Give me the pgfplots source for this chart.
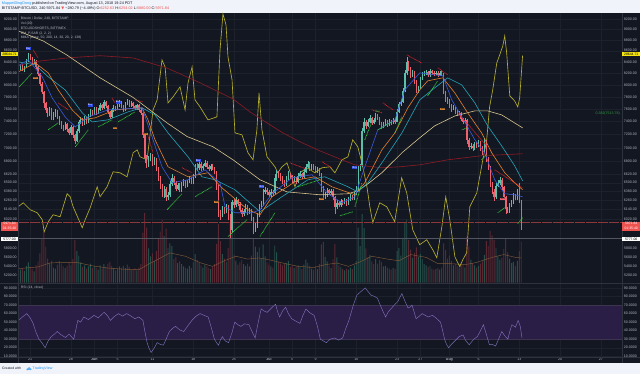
\documentclass[border=0pt]{standalone}
\usepackage{fontspec}
\setmainfont{Liberation Sans}
\newfontfamily\dejavu{DejaVu Sans}
\usepackage{pgfplots}
\pgfplotsset{compat=1.18}
\usepackage{pgfplotstable}
\definecolor{bg}{HTML}{131722}
\definecolor{hdr}{HTML}{F0F3FA}
\definecolor{gridc}{HTML}{1D212C}
\definecolor{sep}{HTML}{2E323E}
\definecolor{axtext}{HTML}{B2B5BE}
\definecolor{upc}{HTML}{5CBFA9}
\definecolor{dnc}{HTML}{EE6270}
\definecolor{maBlue}{HTML}{3B5BDB}
\definecolor{maOrange}{HTML}{E8822A}
\definecolor{maCyan}{HTML}{23A5B8}
\definecolor{maTan}{HTML}{D5C48C}
\definecolor{maRed}{HTML}{8E1B24}
\definecolor{shorts}{HTML}{B5AE2C}
\definecolor{volG}{HTML}{24524A}
\definecolor{volR}{HTML}{5A2732}
\definecolor{volMA}{HTML}{7E5636}
\definecolor{rsiL}{HTML}{7D70B8}
\definecolor{rsiB}{HTML}{2A1E46}
\definecolor{rsiE}{HTML}{3D3452}
\definecolor{sarG}{HTML}{33D13A}
\definecolor{sarR}{HTML}{E0242B}
\definecolor{buyc}{HTML}{2B45E0}
\definecolor{sellc}{HTML}{D3802E}
\definecolor{lastR}{HTML}{EF5350}
\definecolor{yBox}{HTML}{F5E50C}
\definecolor{tvblue}{HTML}{2196F3}
\definecolor{hdrtext}{HTML}{131722}
\definecolor{fibG}{HTML}{2E9E3C}

\pgfplotstableread{
b o c h l v
-6 8300 8280 8340 8240 2600
-5 8280 8340 8370 8260 2300
-4 8340 8260 8360 8230 2500
-3 8260 8310 8330 8220 2100
-2 8310 8420 8450 8290 3000
-1 8420 8510 8560 8400 3600
0 8510 8460 8540 8430 2800
1 8460 8400 8490 8370 2400
2 8400 8420 8450 8360 2000
3 8420 8300 8430 8270 3100
4 8300 8180 8320 8150 3800
5 8180 8020 8200 7980 5200
6 8020 7880 8040 7840 7800
7 7880 7700 7900 7620 9200
8 7700 7580 7720 7540 6400
9 7580 7520 7620 7470 4300
10 7520 7590 7630 7490 3500
11 7590 7460 7610 7430 3900
12 7460 7510 7550 7420 2700
13 7510 7570 7600 7480 2500
14 7570 7470 7590 7440 3200
15 7470 7380 7490 7340 3900
16 7380 7320 7410 7290 3400
17 7320 7290 7350 7250 2900
18 7290 7360 7390 7270 2600
19 7360 7280 7380 7240 3000
20 7280 7220 7300 7190 3500
21 7220 7310 7340 7200 3100
22 7310 7190 7330 7150 4200
23 7190 7100 7210 7060 7600
24 7100 7250 7280 7090 5600
25 7250 7390 7420 7230 4800
26 7390 7430 7470 7360 3600
27 7430 7360 7450 7330 2800
28 7360 7460 7490 7340 3100
29 7460 7400 7480 7370 2500
30 7400 7490 7520 7380 2900
31 7490 7570 7600 7470 3400
32 7570 7520 7590 7490 2600
33 7520 7610 7640 7500 3000
34 7610 7540 7630 7510 2700
35 7540 7590 7620 7520 2300
36 7590 7670 7700 7570 3100
37 7670 7620 7690 7590 2500
38 7620 7710 7740 7600 3300
39 7710 7650 7730 7620 2800
40 7650 7550 7670 7520 3400
41 7550 7470 7570 7440 3700
42 7470 7580 7610 7450 3000
43 7580 7630 7660 7560 2600
44 7630 7600 7650 7570 2200
45 7600 7660 7690 7580 2500
46 7660 7710 7750 7640 2900
47 7710 7640 7730 7610 2700
48 7640 7590 7660 7560 3000
49 7590 7680 7710 7570 2600
50 7680 7720 7770 7660 3200
51 7720 7660 7740 7630 2800
52 7660 7700 7730 7640 2300
53 7700 7650 7720 7620 2400
54 7650 7610 7670 7580 2600
55 7610 7660 7690 7590 2200
56 7660 7590 7680 7560 2700
57 7590 7540 7610 7500 3300
58 7540 7200 7560 7150 8900
59 7200 6850 7220 6780 12400
60 6850 6760 6900 6700 9800
61 6760 6830 6880 6720 6100
62 6830 6890 6930 6800 4700
63 6890 6770 6910 6740 5200
64 6770 6830 6860 6750 3900
65 6830 6700 6850 6660 5600
66 6700 6560 6720 6520 7800
67 6560 6450 6590 6410 9100
68 6450 6360 6480 6300 11200
69 6360 6420 6460 6290 8300
70 6420 6300 6440 6250 9600
71 6300 6330 6370 6270 6200
72 6330 6480 6520 6310 7000
73 6480 6560 6620 6460 6500
74 6560 6500 6600 6470 4200
75 6500 6420 6520 6390 4600
76 6420 6470 6500 6400 3500
77 6470 6400 6490 6370 3800
78 6400 6480 6510 6380 3300
79 6480 6520 6550 6460 2900
80 6520 6460 6540 6430 2700
81 6460 6510 6540 6440 2500
82 6510 6560 6600 6490 3000
83 6560 6500 6580 6480 2600
84 6500 6590 6620 6480 3600
85 6590 6720 6760 6570 5100
86 6720 6700 6780 6670 4000
87 6700 6760 6800 6680 3500
88 6760 6700 6790 6670 3100
89 6700 6740 6770 6680 2700
90 6740 6780 6820 6720 3200
91 6780 6720 6800 6690 2900
92 6720 6690 6750 6660 2600
93 6690 6740 6770 6670 2400
94 6740 6700 6760 6680 2800
95 6700 6650 6720 6620 3300
96 6650 6450 6670 6400 6900
97 6450 6100 6470 6050 10400
98 6100 6060 6140 6010 7400
99 6060 6150 6190 6040 5100
100 6150 6110 6180 6080 4300
101 6110 6180 6210 6090 3700
102 6180 6050 6200 6000 6200
103 6050 5880 6080 5777 10800
104 5880 6240 6270 5860 9400
105 6240 6200 6280 6160 5000
106 6200 6260 6300 6180 3900
107 6260 6220 6280 6190 3200
108 6220 6140 6240 6110 3600
109 6140 6080 6160 6050 4100
110 6080 6120 6150 6060 3300
111 6120 6180 6210 6100 3000
112 6180 6100 6200 6070 3400
113 6100 6130 6160 6080 2900
114 6130 6020 6150 5990 4800
115 6020 5900 6040 5830 7900
116 5900 5930 5970 5860 6400
117 5930 6060 6090 5910 5500
118 6060 6180 6210 6040 6300
119 6180 6210 6250 6150 4400
120 6210 6380 6420 6190 6800
121 6380 6400 6440 6350 4700
122 6400 6370 6430 6330 3600
123 6370 6330 6400 6300 3200
124 6330 6380 6410 6310 2900
125 6380 6360 6400 6320 2700
126 6360 6560 6620 6340 6600
127 6560 6640 6680 6530 5400
128 6640 6600 6660 6560 3700
129 6600 6560 6630 6520 3400
130 6560 6520 6590 6480 3100
131 6520 6480 6540 6440 3300
132 6480 6560 6600 6460 3500
133 6560 6620 6660 6540 3900
134 6620 6580 6640 6550 2800
135 6580 6530 6610 6500 3000
136 6530 6560 6590 6510 2600
137 6560 6510 6580 6480 2900
138 6510 6590 6630 6490 3100
139 6590 6620 6660 6570 2800
140 6620 6580 6640 6550 2400
141 6580 6650 6690 6560 3200
142 6650 6720 6770 6630 4100
143 6720 6760 6800 6700 3500
144 6760 6700 6790 6670 3000
145 6700 6740 6770 6680 2500
146 6740 6710 6760 6680 2300
147 6710 6660 6730 6630 2900
148 6660 6690 6720 6640 2400
149 6690 6620 6710 6590 3300
150 6620 6420 6640 6380 6800
151 6420 6310 6450 6270 7200
152 6310 6330 6370 6280 4600
153 6330 6400 6430 6310 3800
154 6400 6360 6420 6330 3000
155 6360 6390 6420 6340 2600
156 6390 6300 6410 6260 4200
157 6300 6180 6320 6080 6900
158 6180 6230 6260 6150 4500
159 6230 6200 6250 6170 3100
160 6200 6250 6280 6180 2800
161 6250 6230 6270 6200 2400
162 6230 6260 6290 6210 2200
163 6260 6220 6280 6190 2500
164 6220 6270 6300 6200 2300
165 6270 6310 6340 6250 2700
166 6310 6290 6330 6260 2400
167 6290 6350 6380 6270 3100
168 6350 6420 6460 6330 3900
169 6420 6700 6740 6400 9800
170 6700 6730 6770 6660 6500
171 6730 7250 7300 6720 12200
172 7250 7400 7450 7220 9700
173 7400 7330 7420 7290 6100
174 7330 7400 7440 7310 4500
175 7400 7450 7500 7380 4900
176 7450 7380 7470 7350 3800
177 7380 7420 7460 7360 3300
178 7420 7490 7540 7400 4200
179 7490 7460 7520 7430 3400
180 7460 7380 7480 7340 4000
181 7380 7330 7400 7290 3700
182 7330 7360 7390 7300 2900
183 7360 7400 7440 7340 3000
184 7400 7350 7420 7320 2700
185 7350 7410 7440 7330 2500
186 7410 7380 7430 7350 2300
187 7380 7430 7460 7360 2600
188 7430 7400 7450 7370 2400
189 7400 7560 7600 7390 5600
190 7560 7680 7720 7540 6200
191 7680 7720 7760 7650 4800
192 7720 7900 7950 7700 7900
193 7900 8200 8260 7880 10600
194 8200 8390 8480 8170 11200
195 8390 8280 8420 8230 7600
196 8280 8170 8300 8120 5900
197 8170 8210 8250 8130 4400
198 8210 8060 8230 8020 5300
199 8060 7900 8080 7860 6300
200 7900 7950 7990 7870 4600
201 7950 8100 8140 7930 5100
202 8100 8180 8220 8080 4200
203 8180 8190 8230 8150 3300
204 8190 8220 8260 8160 3100
205 8220 8160 8240 8130 2800
206 8160 8230 8270 8140 3000
207 8230 8200 8250 8170 2500
208 8200 8180 8230 8150 2300
209 8180 8210 8240 8160 2400
210 8210 8170 8230 8140 2600
211 8170 8210 8240 8150 2300
212 8210 8180 8230 8150 2700
213 8180 7880 8200 7840 7000
214 7880 7760 7900 7720 5800
215 7760 7730 7790 7690 4300
216 7730 7650 7760 7610 4800
217 7650 7600 7680 7560 3900
218 7600 7620 7660 7580 3100
219 7620 7560 7640 7520 3400
220 7560 7520 7580 7490 3000
221 7520 7540 7570 7500 2600
222 7540 7440 7560 7410 3600
223 7440 7400 7460 7360 3300
224 7400 7420 7450 7380 2700
225 7420 7120 7440 7060 8200
226 7120 7010 7150 6970 6400
227 7010 7030 7070 6980 4100
228 7030 6990 7060 6960 3500
229 6990 7050 7080 6970 3100
230 7050 7030 7090 7000 2700
231 7030 7080 7120 7010 3000
232 7080 7000 7100 6960 3400
233 7000 6940 7020 6900 3800
234 6940 7100 7150 6920 4900
235 7100 6830 7120 6790 7400
236 6830 6720 6860 6680 6500
237 6720 6480 6740 6440 9200
238 6480 6380 6510 6340 8400
239 6380 6300 6410 6250 7600
240 6300 6460 6490 6280 6200
241 6460 6500 6540 6440 4700
242 6500 6540 6580 6470 4100
243 6540 6440 6560 6400 4400
244 6440 6300 6460 6260 6000
245 6300 6150 6320 6080 7900
246 6150 6120 6180 6090 5400
247 6120 6200 6230 6100 4300
248 6200 6240 6270 6180 3500
249 6240 6330 6360 6220 3700
250 6330 6290 6350 6260 3000
251 6290 6380 6420 6270 3900
252 6380 6260 6500 6230 5600
253 6260 5971.84 6270 5880 7300
}\candles

\tikzset{
  lbl/.style={font=\fontsize{3.6}{4}\selectfont, text=axtext, inner sep=0.4bp},
  buy/.style={font=\fontsize{2.6}{3}\selectfont, fill=buyc, text=white, inner sep=0.3bp},
  sell/.style={font=\fontsize{2.6}{3}\selectfont, fill=sellc, text=bg, inner sep=0.3bp},
  box/.style={font=\fontsize{3.4}{4}\selectfont, inner sep=0.3bp, minimum width=17.6bp, minimum height=4.4bp},
}
\pgfplotsset{
  my pane/.style={scale only axis, anchor=south west, width=604bp, xmin=-5.92, xmax=304.94},
  my main/.style={my pane, at={(18.5bp,91bp)}, height=270bp},
  my rsi/.style={my pane, at={(18.5bp,16.3bp)}, height=74.4bp, ymin=8.83, ymax=95.85},
  my pticks/.style={ytick={6020,6140,6260,6380,6500,6620,6800,7000,7200,7400,7600,7800,8000,8200,8400,8600,8800,9000,9200},
    yticklabels={6020.00,6140.00,6260.00,6380.00,6500.00,6620.00,6800.00,7000.00,7200.00,7400.00,7600.00,7800.00,8000.00,8200.00,8400.00,8600.00,8800.00,9000.00,9200.00}},
  my rticks/.style={ytick={10,20,30,40,50,60,70,80,90},
    yticklabels={10.0000,20.0000,30.0000,40.0000,50.0000,60.0000,70.0000,80.0000,90.0000}},
  my dticks/.style={xtick={0,21,33,45,63,84,105,123,135,147,168,189,201,216,231,252,273,294}},
  my frame/.style={axis line style={draw=none}, major tick length=0pt},
  my grids/.style={xmajorgrids, ymajorgrids, major grid style={draw=gridc, line width=0.35bp}},
  my ebar/.style 2 args={draw=none, mark=none, forget plot,
    error bars/y dir=plus, error bars/y explicit, error bars/error mark=none,
    error bars/error bar style={draw=#1, line width=#2}},
  my sar/.style={#1, line width=0.8bp, dash pattern=on 0.7bp off 0.7bp, unbounded coords=jump},
}

\begin{document}
\begin{tikzpicture}
\begin{scope}[x=1bp,y=1bp]
\useasboundingbox (0,0) rectangle (640,374);
\fill[bg] (0,0) rectangle (640,374);
\fill[hdr] (0,361) rectangle (640,374);
\fill[hdr] (0,0) rectangle (640,11);
\end{scope}

% ---------- main pane frame, grid, left labels
\begin{axis}[my main, ymode=log, ymin=5259, ymax=9318, my pticks, my frame, my grids, my dticks, xticklabels={},
  yticklabel style={lbl, anchor=east, xshift=-1.2bp}]
\addplot[draw=none] coordinates {(0,7000)};
\end{axis}

% ---------- volume
\begin{axis}[my main, hide axis, ymin=0, ymax=48000]
\addplot[ybar, bar width=0.95bp, bar shift=0pt, fill=volG, draw=none,
  restrict expr to domain={\thisrow{c}-\thisrow{o}}{0:100000}] table[x=b, y=v] {\candles};
\addplot[ybar, bar width=0.95bp, bar shift=0pt, fill=volR, draw=none,
  restrict expr to domain={\thisrow{o}-\thisrow{c}}{0.5:100000}] table[x=b, y=v] {\candles};
\addplot[volMA, line width=0.45bp] coordinates {(-6,2500) (4,2800) (10,3500) (16,3600) (24,3600) (32,3000) (40,2600) (48,2400) (56,2300) (60,3100) (66,4200) (72,5300) (80,4700) (88,3500) (94,2900) (100,3900) (106,4700) (112,4200) (118,4400) (124,4000) (130,3500) (138,2900) (146,2700) (152,3200) (158,3500) (164,2900) (170,3700) (176,4700) (184,4200) (190,3900) (196,5000) (204,4500) (210,3400) (216,3400) (224,3200) (230,3600) (238,4500) (244,5000) (250,4500) (253,4400)};
\end{axis}

% ---------- BTCUSDSHORTS overlay
\begin{axis}[my main, hide axis, ymin=15000, ymax=31200]
\addplot[shorts, line width=0.65bp] coordinates {(-6.2,19560) (-3.6,19800) (0,19380) (3.6,19200) (6.2,18780) (7.2,18060) (9.3,18660) (11.8,19080) (15.4,18960) (19.0,20340) (20.6,20160) (22.1,19560) (25.7,18600) (26.8,18300) (28.3,18780) (30.9,19500) (34.5,20760) (36.0,20160) (39.6,20760) (42.7,21660) (46.3,21600) (49.9,21360) (53.0,22800) (55.1,22980) (56.6,22560) (60.2,22380) (63.3,25380) (65.4,25980) (67.9,28380) (69.5,27960) (71.0,25800) (73.6,26160) (77.2,26760) (79.8,25380) (81.3,27000) (83.4,27960) (84.9,25980) (87.5,25560) (91.6,24780) (96.2,24960) (97.8,28980) (99.3,31140) (100.9,30480) (101.9,28560) (104.0,27180) (105.5,24000) (109.1,23880) (112.2,22800) (114.8,22380) (116.8,24180) (117.9,26400) (119.4,24180) (122.0,22560) (126.1,21960) (127.6,21600) (129.7,21960) (132.3,22200) (136.4,20760) (139.0,21600) (142.6,21900) (146.7,21600) (150.3,21900) (154.4,21960) (157.0,21600) (160.6,22380) (163.7,22560) (166.2,23580) (168.8,23160) (170.9,22200) (173.5,20760) (175.0,19560) (176.5,18600) (180.1,19800) (183.7,19560) (187.8,18660) (191.4,21300) (194.0,20400) (197.1,18180) (200.7,17280) (204.3,17580) (207.4,16980) (209.5,16500) (212.1,18360) (214.1,20160) (216.2,18780) (218.8,16560) (221.3,15960) (222.9,16380) (224.9,16800) (226.5,19560) (230.1,20400) (233.2,22380) (235.2,23580) (236.7,25560) (238.3,26580) (240.4,28200) (241.9,28680) (243.5,29220) (244.5,29820) (245.5,28800) (247.1,26220) (249.6,25920) (251.2,25560) (252.2,26100) (253.7,28644.71)};
\end{axis}

% ---------- price: candles, MAs, SAR
\begin{axis}[my main, ymode=log, ymin=5259, ymax=9318, hide axis]
\addplot[lastR!55!bg, line width=0.7bp, dash pattern=on 0.5bp off 0.6bp] coordinates {(-6,5971.84) (305,5971.84)};
\addplot[axtext!40!bg, line width=0.35bp] coordinates {(-6,5777) (305,5777)};
% candles
\addplot[my ebar={upc}{0.4bp}, restrict expr to domain={\thisrow{c}-\thisrow{o}}{0:100000}]
  table[x=b, y=l, y error plus expr=\thisrow{h}-\thisrow{l}] {\candles};
\addplot[my ebar={dnc}{0.4bp}, restrict expr to domain={\thisrow{o}-\thisrow{c}}{0.5:100000}]
  table[x=b, y=l, y error plus expr=\thisrow{h}-\thisrow{l}] {\candles};
\addplot[my ebar={upc}{1.2bp}, restrict expr to domain={\thisrow{c}-\thisrow{o}}{0:100000}]
  table[x=b, y=o, y error plus expr=\thisrow{c}-\thisrow{o}] {\candles};
\addplot[my ebar={dnc}{1.2bp}, restrict expr to domain={\thisrow{o}-\thisrow{c}}{0.5:100000}]
  table[x=b, y=c, y error plus expr=\thisrow{o}-\thisrow{c}] {\candles};
% moving averages
\addplot[maRed, line width=0.6bp] coordinates {(-6.2,8330) (1.5,8400) (19,8470) (36,8510) (53,8470) (70.5,8290) (87.5,8035) (104.5,7765) (113.2,7555) (122,7380) (130.2,7225) (139,7090) (149.3,6955) (160.6,6824) (167.3,6752) (181.2,6710) (190.4,6724) (200.7,6752) (215.1,6824) (232.6,6883) (253.7,6912)};
\addplot[maTan, line width=0.6bp] coordinates {(-6.2,8970) (6.7,8780) (19,8520) (36,8120) (53,7790) (60.2,7620) (70.5,7380) (80.8,7170) (94.2,7015) (104.5,6824) (118.4,6541) (132.3,6375) (149.3,6336) (163.7,6350) (168.8,6390) (174,6485) (181.2,6640) (191.5,6926) (200.7,7150) (208.4,7334) (218.8,7490) (229.1,7570) (235.7,7570) (242.9,7507) (253.7,7303)};
\addplot[maCyan, line width=0.6bp] coordinates {(-6.2,8400) (2.6,8346) (9.3,8137) (18,7915) (26.8,7539) (31.9,7396) (40.1,7428) (50.4,7555) (57.6,7620) (64.3,7507) (71,7225) (81.3,6868) (88.5,6583) (95.2,6541) (105.5,6404) (118.4,6112) (129.7,6310) (143.1,6541) (151.8,6583) (163.7,6445) (168.8,6375) (174,6500) (181.2,6780) (191.5,7225) (200.7,7750) (208.4,7948) (215.1,8120) (222.3,8000) (229.1,7700) (235.7,7334) (242.9,7030) (249.6,6738) (253.7,6527)};
\addplot[maOrange, line width=0.6bp] coordinates {(-6.2,8222) (2.6,8380) (9.3,8205) (14.4,7915) (21.6,7587) (26.8,7428) (33.5,7460) (43.7,7587) (57.6,7620) (60.7,7428) (64.3,7120) (71,6724) (81.3,6583) (91.6,6640) (98.8,6430) (112.2,6138) (118.4,6073) (124.6,6310) (138,6541) (146.7,6583) (155.4,6445) (167.3,6336) (172.4,6500) (181.2,6970) (187.9,7225) (194.6,7620) (200.7,7915) (204.8,8068) (212.6,8120) (218.8,7865) (225.4,7539) (232.6,7225) (237.8,6926) (244.5,6640) (249.6,6500) (253.7,6404)};
\addplot[maBlue, line width=0.6bp] coordinates {(-6.2,8330) (-1.0,8435) (6.2,8137) (11.3,7783) (18.0,7475) (23.2,7318) (29.9,7475) (40.1,7587) (57.6,7620) (62.8,7165) (67.9,6724) (73.1,6500) (81.3,6541) (90.1,6681) (97.8,6500) (100.4,6177) (105.5,6099) (114.3,6099) (118.4,6138) (124.6,6350) (134.9,6569) (145.2,6611) (153.4,6350) (160.6,6230) (167.3,6310) (172.4,6724) (179.1,7272) (187.9,7428) (193,7915) (200.7,8205) (208.4,8171) (212.6,8154) (217.2,7750) (223.9,7396) (229.1,7120) (234.2,6926) (239.3,6541) (244.5,6350) (249.6,6336) (253.7,6310)};
% parabolic SAR
\addplot[my sar=sarG] coordinates {(-6.2,7948) (1.0,8205) (1.0,nan) (9.3,7272) (14.4,7380) (14.4,nan) (23.2,7015) (29.9,7272) (29.9,nan) (35,7318) (42.2,7428) (42.2,nan) (45.3,7396) (54,7555) (54,nan) (70.5,6138) (78.2,6350) (78.2,nan) (84.9,6310) (93.7,6445) (93.7,nan) (101.9,5800) (111.7,6010) (111.7,nan) (118.4,5800) (126.1,6099) (126.1,nan) (138,6445) (149.3,6541) (149.3,nan) (159.6,6060) (166.2,6112) (166.2,nan) (167.3,6177) (170.9,6500) (170.9,nan) (172.4,7120) (176,7396) (176,nan) (179.1,7272) (186.3,7396) (186.3,nan) (187.9,7225) (191.5,7475) (191.5,nan) (204.8,7815) (210,8068) (210,nan) (222.3,7272) (225.4,7303) (225.4,nan) (232.6,6824) (235.2,6897) (235.2,nan) (240.9,6099) (244.5,6164) (244.5,nan) (251.2,5960) (253.7,6035)};
\addplot[my sar=sarR] coordinates {(1.5,8615) (4.1,8470) (4.1,nan) (14.4,7700) (19.6,7587) (19.6,nan) (42.2,7782) (43.7,7700) (43.7,nan) (54,7750) (58.1,7717) (58.1,nan) (60.2,7225) (63.3,6926) (63.3,nan) (78.2,6710) (83.4,6640) (83.4,nan) (133.8,6780) (141.5,6700) (141.5,nan) (150.3,6795) (155.4,6710) (155.4,nan) (176,7587) (181.2,7539) (181.2,nan) (181.7,7700) (186.8,7587) (186.8,nan) (194,8525) (201.7,8380) (201.7,nan) (210,8293) (215.1,8171) (215.1,nan) (220.3,7539) (235.2,7030) (235.2,nan) (239.3,6681) (253.7,6430)};
% buy / sell signals
\node[buy] at (axis cs:-1,8640) {Buy};
\node[buy] at (axis cs:30.9,7660) {Buy};
\node[buy] at (axis cs:45.3,7710) {Buy};
\node[buy] at (axis cs:86.5,6810) {Buy};
\node[buy] at (axis cs:119.4,6445) {Buy};
\node[buy] at (axis cs:167.3,6710) {Buy};
\node[font=\fontsize{2.6}{3}\selectfont, text=sarG] at (axis cs:179.1,7555) {Buy};
\node[sell] at (axis cs:2.6,8120) {Sell};
\node[sell] at (axis cs:43.7,7303) {Sell};
\node[sell] at (axis cs:59.2,7210) {Sell};
\node[sell] at (axis cs:96.2,6243) {Sell};
\node[sell] at (axis cs:150.3,6283) {Sell};
\node[sell] at (axis cs:212.6,7603) {Sell};
\node[sell, fill=dnc] at (axis cs:243.5,6283) {Sell};
\end{axis}

% ---------- right price labels
\begin{axis}[my main, ymode=log, ymin=5259, ymax=9318, my pticks, my frame, xtick=\empty, yticklabel pos=right,
  yticklabel style={lbl, anchor=west, xshift=1.2bp}]
\addplot[draw=none] coordinates {(0,7000)};
\end{axis}

% ---------- RSI pane
\begin{axis}[my rsi, my rticks, my frame, my grids, my dticks,
  xticklabels={21,28,\textbf{Jun},5,11,18,25,\textbf{Jul},5,9,16,23,27,\textbf{Aug},6,13,20,27},
  xticklabel style={lbl, anchor=north, yshift=-0.4bp},
  yticklabel style={lbl, anchor=east, xshift=-1.2bp}]
\addplot[fill=rsiB, draw=none] coordinates {(-6,30) (305,30) (305,70) (-6,70) (-6,30)};
\addplot[rsiE, line width=0.4bp] coordinates {(-6,30) (305,30)};
\addplot[rsiE, line width=0.4bp] coordinates {(-6,70) (305,70)};
\addplot[rsiL, line width=0.45bp] coordinates {(-6,52) (-4,56) (-1.8,60) (0,55) (1.4,49) (3,38) (4.5,30) (6,26) (7.7,20) (9,27) (10.8,33) (12.5,36) (13.9,39) (16,35) (18.2,32) (20,36) (22.4,30) (23.5,41) (24.5,52) (26,50) (27.6,56) (30,53) (32.9,58) (35,55) (38.1,61.5) (40,57) (41.3,52) (43,56) (45.5,60) (47.5,57) (49.7,60) (52,57) (53.9,54) (56,56) (58.1,52) (59,40) (60.2,26) (61.3,19) (62.3,14.5) (64,20) (65.4,26) (67,24) (68.6,23) (70,30) (71.7,39) (73.5,43) (74.9,45) (77,41) (79.1,39) (81,45) (83.3,52) (85.5,57) (87.5,60) (89.5,58) (91.7,56) (93.5,42) (94.9,30) (96,26) (97,23) (98,29) (99,33) (100.5,28) (102.2,26) (104,38) (105.4,50) (107,47) (108.5,45) (110.5,48) (112.7,47) (114.5,38) (115.9,31.5) (117.5,50) (119,65.5) (120.5,63) (122.1,61.5) (124.5,67) (126.4,71) (127.5,62) (128.5,56) (130,63) (131.6,67.5) (133,60) (134.7,54) (137,51) (139,48.5) (140.5,58) (142.1,65.5) (144,61) (146.3,58) (148,45) (149.5,30) (151,28) (152.6,26) (154.5,30) (156.8,31.5) (159,29) (161,31.5) (162.5,42) (164.2,52) (166.5,70) (168.3,81.5) (170.5,86) (172.6,90) (174,86) (175.7,81.5) (177.5,80) (178.9,78) (180,72) (181,66.5) (183.1,56) (184.5,62) (186.2,66.5) (188,71) (189.4,74) (190.5,79) (191.5,83.5) (193,75) (194.7,66.5) (196,68) (196.7,70) (197.8,62) (198.8,54) (200.5,57) (202,60) (205,56) (207.3,58) (209.5,54) (211.4,50) (212.5,40) (213.5,30) (214.5,24) (215.6,20) (217,24) (218.8,28) (221,33) (223,35) (224.5,28) (226.2,23.5) (228.5,30) (230.4,33) (232,40) (233.5,47) (235,36) (236.6,23.5) (238,24) (239.8,22) (241.5,31) (243,39) (244.5,34) (246.1,30) (247.2,40) (248.2,47) (250,44) (251.4,52) (252.5,45) (253.4,31.5)};
\end{axis}
\begin{axis}[my rsi, my rticks, my frame, xtick=\empty, yticklabel pos=right,
  yticklabel style={lbl, anchor=west, xshift=1.2bp}]
\addplot[draw=none] coordinates {(0,50)};
\end{axis}

\begin{scope}[x=1bp,y=1bp]
% ---------- separators
\draw[sep, line width=0.5bp] (18.5,11) -- (18.5,361);
\draw[sep, line width=0.5bp] (622.5,11) -- (622.5,361);
\draw[sep, line width=0.5bp] (0,90.7) -- (640,90.7);
\draw[sep, line width=0.5bp] (0,16.3) -- (640,16.3);

% ---------- axis value boxes
\node[box, fill=yBox, text=black, anchor=east] at (18.3,320) {28644.71};
\node[box, fill=yBox, text=black, anchor=west] at (622.7,320) {28644.71};
\node[box, fill=lastR, text=white, anchor=east] at (18.3,150) {5971.84};
\node[box, fill=lastR, text=white, anchor=west] at (622.7,150) {5971.84};
\node[box, fill=lastR, text=white, anchor=east] at (18.3,145.2) {01:35:40};
\node[box, fill=lastR, text=white, anchor=west] at (622.7,145.2) {01:35:40};
\node[box, fill=white, text=black, anchor=east] at (18.3,134.7) {5777.00};
\node[box, fill=white, text=black, anchor=west] at (622.7,134.7) {5777.00};
\foreach \yy/\tt in {125/5800.00, 116/5600.00, 107/5400.00, 98/5200.00}{
  \node[lbl, anchor=east] at (17.1,\yy) {\tt};
  \node[lbl, anchor=west] at (623.9,\yy) {\tt};
}
\node[anchor=east, text=fibG, font=\fontsize{3.6}{4}\selectfont, inner sep=0pt] at (620.5,260) {0.382(7513.78)};

% ---------- pane legends
\begin{scope}[every node/.style={anchor=west, inner sep=0pt, text=axtext!90!white, font=\fontsize{3.4}{4}\selectfont}]
\node at (20.5,355.5) {Bitcoin / Dollar, 240, BITSTAMP};
\node at (20.5,350.6) {Vol (20)};
\node at (20.5,345.7) {BTCUSDSHORTS, BITFINEX};
\node at (20.5,340.8) {CM\_P-SAR (2, 2, 2)};
\node at (20.5,335.9) {MMA (close, 50, 200, 14, 30, 20, 2, 138)};
\node at (20.5,85.7) {RSI (14, close)};
\end{scope}

% ---------- header and footer
\node[anchor=west, inner sep=0pt, font=\fontsize{3.8}{4.5}\selectfont, text=hdrtext] at (1.5,370.8)
  {{\color{tvblue}MuppetDingDong} published on TradingView.com, August 13, 2018 19:24 PDT};
\node[anchor=west, inner sep=0pt, font=\fontsize{3.8}{4.5}\selectfont, text=hdrtext] at (1.5,365.5)
  {BITSTAMP:BTCUSD, 240 5971.84 {\color{lastR}\dejavu ▼}~−280.79 (−4.49\%) O:{\color{lastR}6252.63} H:{\color{lastR}6254.02} L:{\color{lastR}5880.00} C:{\color{lastR}5971.84}};
\node[anchor=west, inner sep=0pt, font=\fontsize{3.4}{4}\selectfont, text=hdrtext] at (1.7,5) {Created with};
\fill[tvblue!75] (27.2,4.2) circle (1.1) (28.9,5.0) circle (1.5) (30.5,4.3) circle (1.0);
\fill[tvblue!75] (27.2,3.1) rectangle (30.5,4.4);
\node[anchor=west, inner sep=0pt, font=\fontsize{3.6}{4}\selectfont, text=tvblue] at (32.3,5) {TradingView};
\end{scope}
\end{tikzpicture}
\end{document}
